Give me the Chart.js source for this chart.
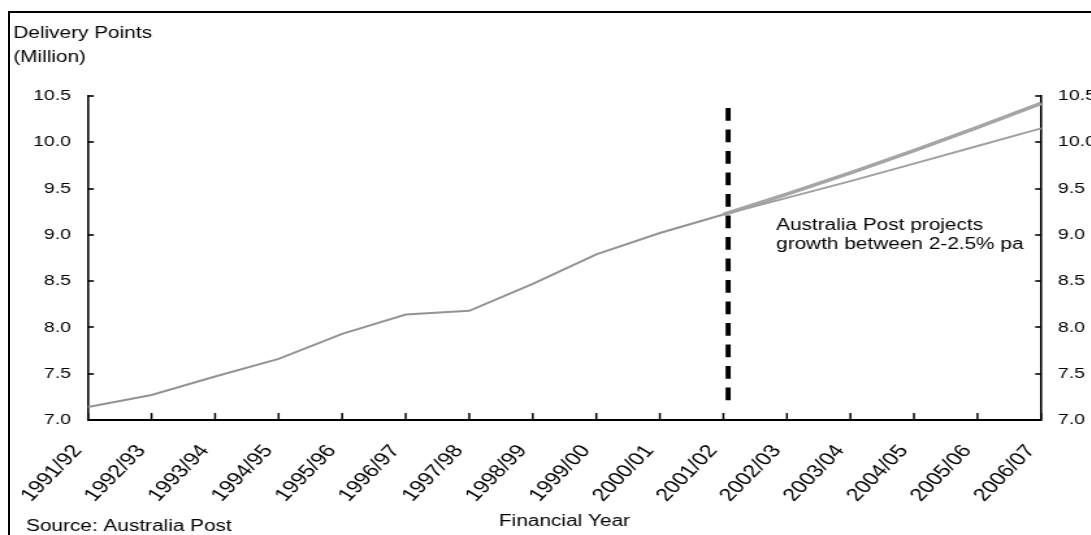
<!DOCTYPE html>
<html>
<head>
<meta charset="utf-8">
<script src="https://cdn.jsdelivr.net/npm/chart.js@4.4.0/dist/chart.umd.min.js"></script>
<style>
  html, body { margin: 0; padding: 0; background: #fff; overflow: hidden; width: 1091px; height: 535px; }
  #frame { position: absolute; left: 8px; top: 11px; width: 2000px; height: 2000px;
           border-left: 2px solid #000; border-top: 2px solid #000; box-sizing: border-box; }
  #wrap { position: absolute; left: 0; top: 0; width: 840px; height: 535px;
          transform: scaleX(1.3); transform-origin: 0 0; }
  canvas { display: block; }
</style>
</head>
<body>
<div id="frame"></div>
<div id="wrap"><canvas id="c" width="840" height="535"></canvas></div>
<script>
// ---- data ----
const categories = ['1991/92','1992/93','1993/94','1994/95','1995/96','1996/97','1997/98','1998/99',
                    '1999/00','2000/01','2001/02','2002/03','2003/04','2004/05','2005/06','2006/07'];
const actualPoints = [7.14, 7.27, 7.47, 7.66, 7.93, 8.14, 8.18, 8.47, 8.79, 9.02, 9.22,
                      null, null, null, null, null];
const projectionHigh = [null, null, null, null, null, null, null, null, null, null, 9.22,
                        9.44, 9.67, 9.91, 10.16, 10.42];
const projectionLow = [null, null, null, null, null, null, null, null, null, null, 9.22,
                       9.40, 9.58, 9.77, 9.96, 10.15];
const yTickValues = [7.0, 7.5, 8.0, 8.5, 9.0, 9.5, 10.0, 10.5];
const yMin = 7.0;
const yMax = 10.5;
const yAxisTitle = ['Delivery Points', '(Million)'];
const xAxisTitle = 'Financial Year';
const sourceNote = 'Source: Australia Post';
const projectionNote = ['Australia Post projects', 'growth between 2-2.5% pa'];
const forecastMarkerIndex = 10.075;   // dashed divider, just after 2001/02
const forecastMarkerRange = [7.2, 10.37];
const noteAnchor = { index: 10.83, value: 9.05 };

// ---- chart ----
const FONT = "'Liberation Sans', Arial, Helvetica, sans-serif";
Chart.defaults.font.family = FONT;
Chart.defaults.color = '#000';

const decorPlugin = {
  id: 'decor',
  beforeDatasetsDraw(chart) {
    const { ctx } = chart;
    const xs = chart.scales.x, ys = chart.scales.y;
    const x = xs.getPixelForValue(forecastMarkerIndex);
    ctx.save();
    ctx.strokeStyle = '#000';
    ctx.lineWidth = 3.9;
    ctx.setLineDash([12.7, 8.8]);
    ctx.beginPath();
    ctx.moveTo(x, ys.getPixelForValue(forecastMarkerRange[1]));
    ctx.lineTo(x, ys.getPixelForValue(forecastMarkerRange[0]));
    ctx.stroke();
    ctx.restore();
  },
  afterDraw(chart) {
    const { ctx, chartArea } = chart;
    const xs = chart.scales.x, ys = chart.scales.y, ys2 = chart.scales.y2;
    ctx.save();
    ctx.strokeStyle = '#000';
    // inside tick marks
    ctx.lineWidth = 1.6;
    ys.ticks.forEach(t => {
      const py = Math.round(ys.getPixelForValue(t.value));
      ctx.beginPath(); ctx.moveTo(chartArea.left, py); ctx.lineTo(chartArea.left + 4.5, py); ctx.stroke();
    });
    ys2.ticks.forEach(t => {
      const py = Math.round(ys2.getPixelForValue(t.value));
      ctx.beginPath(); ctx.moveTo(chartArea.right, py); ctx.lineTo(chartArea.right - 4.5, py); ctx.stroke();
    });
    ctx.lineWidth = 1.5;
    categories.forEach((c, i) => {
      const px = xs.getPixelForValue(i);
      ctx.beginPath(); ctx.moveTo(px, chartArea.bottom); ctx.lineTo(px, chartArea.bottom - 7); ctx.stroke();
    });
    // texts
    ctx.fillStyle = '#000';
    ctx.textAlign = 'left';
    ctx.textBaseline = 'alphabetic';
    ctx.font = '16px ' + FONT;
    ctx.fillText(yAxisTitle[0], 10.2, 38);
    ctx.fillText(yAxisTitle[1], 10.2, 62);
    ctx.fillText(sourceNote, 20, 530.5);
    const nx = xs.getPixelForValue(noteAnchor.index);
    const ny = ys.getPixelForValue(noteAnchor.value);
    ctx.fillText(projectionNote[0], nx, ny);
    ctx.fillText(projectionNote[1], nx, ny + 19);
    ctx.restore();
  }
};

new Chart(document.getElementById('c'), {
  type: 'line',
  data: {
    labels: categories,
    datasets: [
      { label: 'Actual', data: actualPoints, borderColor: '#939393', borderWidth: 2,
        pointRadius: 0, tension: 0, fill: false, order: 3 },
      { label: 'Projection 2.5% pa', data: projectionHigh, borderColor: '#a5a5a5', borderWidth: 3.6,
        pointRadius: 0, tension: 0, fill: false, order: 2 },
      { label: 'Projection 2% pa', data: projectionLow, borderColor: '#a0a0a0', borderWidth: 2,
        pointRadius: 0, tension: 0, fill: false, order: 1 }
    ]
  },
  options: {
    responsive: false,
    animation: false,
    devicePixelRatio: 1,
    layout: { padding: { top: 96, left: 0, right: 0, bottom: 0 } },
    plugins: { legend: { display: false }, tooltip: { enabled: false }, title: { display: false } },
    scales: {
      x: {
        type: 'category',
        offset: false,
        grid: { display: true, drawOnChartArea: false, drawTicks: false },
        border: { display: true, color: '#000', width: 2 },
        ticks: { autoSkip: false, minRotation: 52.4, maxRotation: 52.4, padding: 21, labelOffset: -8,
                 font: { size: 18 }, color: '#000' },
        title: { display: true, text: xAxisTitle, font: { size: 16 }, color: '#000',
                 padding: { top: 0, bottom: 4 } },
        afterFit(s) { s.height = 115; }
      },
      y: {
        position: 'left',
        min: yMin, max: yMax,
        grid: { display: true, drawOnChartArea: false, drawTicks: false },
        border: { display: true, color: '#000', width: 1.6 },
        ticks: { padding: 13, font: { size: 15 }, color: '#000',
                 callback: v => Number(v).toFixed(1) },
        afterBuildTicks(s) { s.ticks = yTickValues.map(v => ({ value: v })); },
        afterFit(s) { s.width = 67.7; }
      },
      y2: {
        position: 'right',
        min: yMin, max: yMax,
        grid: { display: true, drawOnChartArea: false, drawTicks: false },
        border: { display: true, color: '#000', width: 1.6 },
        ticks: { padding: 13, font: { size: 15 }, color: '#000',
                 callback: v => Number(v).toFixed(1) },
        afterBuildTicks(s) { s.ticks = yTickValues.map(v => ({ value: v })); },
        afterFit(s) { s.width = 39.2; }
      }
    }
  },
  plugins: [decorPlugin]
});
</script>
</body>
</html>
